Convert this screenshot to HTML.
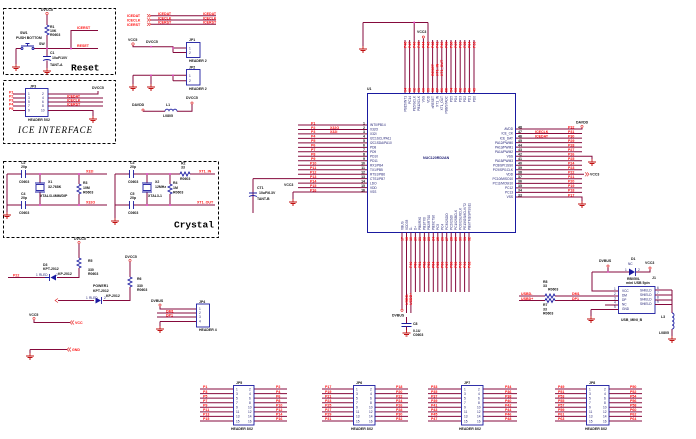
<!DOCTYPE html>
<html><head><meta charset="utf-8"><title>schematic</title>
<style>
html,body{margin:0;padding:0;background:#fff;width:696px;height:439px;overflow:hidden}
svg{display:block;font-family:"Liberation Sans",sans-serif}
.w{stroke:#850a3c;stroke-width:1;fill:none}
.b{stroke:#1a1aa0;stroke-width:0.9;fill:none}
.rd{fill:#ff1010;font-size:3.6px;font-weight:bold}
.k{fill:#111;font-size:3.5px;font-weight:bold}
.n{fill:#1a1a70;font-size:3.2px}
.d{stroke:#000;stroke-width:1;stroke-dasharray:3 2;fill:none}
.j{fill:#e040c0}
.pc{fill:none;stroke:#e02020;stroke-width:0.6}
.big{font-family:"Liberation Mono",monospace;font-size:9.5px;fill:#000;font-weight:bold}
.ice{font-family:"Liberation Serif",serif;font-style:italic;font-size:9px;fill:#000}
</style></head><body>
<svg width="696" height="439" viewBox="0 0 696 439" xmlns="http://www.w3.org/2000/svg">
<defs>
<g id="gnd"><path d="M0,-3V0M-4,0H4M-2.5,1.5H2.5M-1,3H1" stroke="#c01010" stroke-width="0.9" fill="none"/></g>
<g id="rv"><path d="M0,0l2,1l-4,2l4,2l-4,2l4,2l-2,1" stroke="#1a1aa0" stroke-width="0.9" fill="none"/></g>
<g id="rh"><path d="M0,0l1,-2l2,4l2,-4l2,4l2,-4l1,2" stroke="#1a1aa0" stroke-width="0.9" fill="none"/></g>
</defs>

<!-- ================= RESET BOX ================= -->
<rect class="d" x="3.5" y="8.5" width="112" height="66"/>
<text class="k" x="41" y="11">DVCC5</text>
<circle class="pc" cx="47" cy="13.5" r="1.2"/>
<path class="w" d="M47,15V25M47,35V48.5M16,48.5H21M34,48.5H98M71,48.5V30.5H98M16,48.5V64M47,48.5V56.5M47,60.5V68"/>
<use href="#rv" x="47" y="25"/>
<circle class="b" cx="22" cy="48.5" r="1"/><circle class="b" cx="33" cy="48.5" r="1"/>
<path class="b" d="M21,46H34M27.5,46V43.5M25.5,43.5H29.5"/>
<text class="k" x="20" y="34">SW1</text>
<text class="k" x="16" y="39">PUSH BOTTOM</text>
<text class="k" x="39" y="45">SW</text>
<text class="k" x="50" y="28">R1</text>
<text class="k" x="50" y="32">10K</text>
<text class="k" x="50" y="36">R0603</text>
<text class="rd" x="77" y="29">ICERST</text>
<text class="rd" x="77" y="47">RESET</text>
<circle class="j" cx="47" cy="48.5" r="1"/><circle class="j" cx="71" cy="48.5" r="1"/>
<path class="b" d="M43,56.5H51M43,60.5Q47,58.5 51,60.5"/>
<text class="k" x="50" y="54">C1</text>
<text class="k" x="52" y="59">10uF/10V</text>
<text class="k" x="50" y="66">TANT-A</text>
<use href="#gnd" x="16" y="67"/>
<use href="#gnd" x="47" y="71"/>
<text class="big" x="71" y="70.5">Reset</text>

<!-- ================= ICE BOX ================= -->
<rect class="d" x="3.5" y="80.5" width="112" height="63"/>
<text class="k" x="30" y="87.5">JP3</text>
<rect class="b" x="25.5" y="88.5" width="22.5" height="28"/>
<path class="w" d="M13,94H25M13,98H25M13,102H25M13,106H25M13,110.5H25M48,94H98V91M48,98H103M48,102H103M48,106H103M48,110.5H93V116"/>
<text class="rd" x="9" y="93.5">P1</text><text class="rd" x="9" y="97.5">P2</text><text class="rd" x="9" y="101.5">P3</text><text class="rd" x="9" y="105.5">P4</text><text class="rd" x="9" y="110">P5</text>
<text class="n" x="28" y="95">1</text><text class="n" x="28" y="99">3</text><text class="n" x="28" y="103">5</text><text class="n" x="28" y="107">7</text><text class="n" x="28" y="111.5">9</text>
<text class="n" x="42" y="95">2</text><text class="n" x="42" y="99">4</text><text class="n" x="42" y="103">6</text><text class="n" x="42" y="107">8</text><text class="n" x="41" y="111.5">10</text>
<text class="rd" x="67" y="97.3">ICEDAT</text><text class="rd" x="67" y="101.3">ICECLK</text><text class="rd" x="67" y="105.3">ICERST</text>
<text class="k" x="92" y="89">DVCC5</text>
<use href="#gnd" x="93" y="119"/>
<text class="k" x="28" y="121">HEADER 5X2</text>
<text class="ice" x="18" y="133" textLength="74">ICE INTERFACE</text>

<!-- ================= TOP MIDDLE ================= -->
<text class="rd" x="127" y="17">ICEDAT</text><text class="rd" x="127" y="21.5">ICECLK</text><text class="rd" x="127" y="26">ICERST</text>
<path class="pc" d="M147,14.2l2,1.5l-2,1.5M149,14.2l2,1.5l-2,1.5M147,18.5l2,1.5l-2,1.5M149,18.5l2,1.5l-2,1.5M147,22.8l2,1.5l-2,1.5M149,22.8l2,1.5l-2,1.5"/>
<path class="w" d="M151,15.7H216M151,20H216M151,24.3H216"/>
<text class="rd" x="158" y="15">ICEDAT</text><text class="rd" x="158" y="19.3">ICECLK</text><text class="rd" x="158" y="23.6">ICERST</text>
<text class="rd" x="203" y="15">ICEDAT</text><text class="rd" x="203" y="19.3">ICECLK</text><text class="rd" x="203" y="23.6">ICERST</text>

<text class="k" x="128" y="41">VCC5</text>
<circle class="pc" cx="133" cy="44" r="1.2"/>
<text class="k" x="146" y="43">DVCC5</text>
<path class="w" d="M133,45.5V46.7H173V52.5M173,48H186M173,52.5H186"/>
<circle class="j" cx="151" cy="46.7" r="0.9"/><circle class="j" cx="173" cy="48" r="0.9"/>
<text class="k" x="189" y="41">JP1</text>
<rect class="b" x="186.5" y="42.5" width="13.5" height="15"/>
<text class="n" x="189" y="49.5">1</text><text class="n" x="189" y="54">2</text>
<text class="k" x="189" y="62">HEADER 2</text>

<path class="w" d="M133,75.3H173V80.7M173,75.3H186M173,80.7H186M133,75.3V84M151,75.3V84"/>
<circle class="j" cx="151" cy="75.3" r="0.9"/><circle class="j" cx="173" cy="75.3" r="0.9"/>
<use href="#gnd" x="133" y="87"/><use href="#gnd" x="151" y="87"/>
<text class="k" x="189" y="68.5">JP2</text>
<rect class="b" x="186.5" y="69.5" width="13.5" height="15.5"/>
<text class="n" x="189" y="77">1</text><text class="n" x="189" y="82">2</text>
<text class="k" x="189" y="90">HEADER 2</text>

<text class="k" x="132" y="106">DAVDD</text>
<circle class="pc" cx="143" cy="110" r="1.1"/>
<path class="w" d="M143,111.2H165M177,111.2H192V104"/>
<path class="b" d="M165,111.2a2,2 0 0 1 4,0a2,2 0 0 1 4,0a2,2 0 0 1 4,0"/>
<circle class="pc" cx="192" cy="103" r="1.1"/>
<text class="k" x="186" y="99">DVCC5</text>
<text class="k" x="166" y="106">L1</text>
<text class="k" x="163" y="117">L0805</text>

<!-- ================= CRYSTAL BOX ================= -->
<rect class="d" x="3.5" y="161.5" width="215" height="76"/>
<path class="w" d="M7,174H21.5M25.5,174H107M7,205H21.5M25.5,205H107M7,174V212M40,174V183M40,192V205M79,174V184M79,194V205"/>
<path class="b" d="M21.5,170V178M25.5,170V178M21.5,201V209M25.5,201V209M35,183H45M35,192H45"/>
<rect class="b" x="36" y="184.5" width="8" height="6"/>
<use href="#rv" x="79" y="184"/>
<circle class="j" cx="40" cy="174" r="1"/><circle class="j" cx="40" cy="205" r="1"/><circle class="j" cx="79" cy="174" r="1"/><circle class="j" cx="79" cy="205" r="1"/>
<use href="#gnd" x="7" y="215"/>
<text class="k" x="21" y="164">C2</text><text class="k" x="21" y="168">20p</text><text class="k" x="19" y="183">C0603</text>
<text class="k" x="21" y="195">C4</text><text class="k" x="21" y="199">20p</text><text class="k" x="19" y="214">C0603</text>
<text class="k" x="48" y="183">X1</text><text class="k" x="48" y="188">32.768K</text><text class="k" x="40" y="197">XTAL/3.4MM/DIP</text>
<text class="k" x="83" y="184">R3</text><text class="k" x="83" y="189">10M</text><text class="k" x="83" y="193.5">R0603</text>
<text class="rd" x="86" y="172.5">X32I</text><text class="rd" x="86" y="203.5">X32O</text>

<path class="w" d="M115,174H129.5M133.5,174H180M190,174H215M115,205H129.5M133.5,205H215M115,174V218M147,174V183M147,192V205M170,174V184M170,194V205"/>
<path class="b" d="M129.5,170V178M133.5,170V178M129.5,201V209M133.5,201V209M142,183H152M142,192H152"/>
<rect class="b" x="143" y="184.5" width="8" height="6"/>
<use href="#rv" x="170" y="184"/>
<use href="#rh" x="180" y="174"/>
<circle class="j" cx="147" cy="174" r="1"/><circle class="j" cx="147" cy="205" r="1"/><circle class="j" cx="170" cy="174" r="1"/><circle class="j" cx="170" cy="205" r="1"/>
<use href="#gnd" x="115" y="221"/>
<text class="k" x="130" y="164">C3</text><text class="k" x="130" y="168">20p</text><text class="k" x="128" y="183">C0603</text>
<text class="k" x="130" y="195">C5</text><text class="k" x="130" y="199">20p</text><text class="k" x="128" y="214">C0603</text>
<text class="k" x="155" y="183">X2</text><text class="k" x="155" y="188">12MHz</text><text class="k" x="148" y="197">XTAL3-1</text>
<text class="k" x="173" y="184">R4</text><text class="k" x="173" y="189">1M</text><text class="k" x="173" y="193.5">R0603</text>
<text class="k" x="181" y="164.5">R2</text><text class="k" x="181" y="168.5">33</text><text class="k" x="180" y="180">R0603</text>
<text class="rd" x="199" y="172.5">XT1_IN</text><text class="rd" x="197" y="203.5">XT1_OUT</text>
<text class="big" x="174" y="227.5">Crystal</text>

<!-- ================= LOWER LEFT ================= -->
<text class="k" x="74" y="240">DVCC5</text>
<circle class="pc" cx="79" cy="242.5" r="1.1"/>
<path class="w" d="M79,244V258M79,268V277.5H57M48,277.5H8"/>
<use href="#rv" x="79" y="258"/>
<path d="M56,274.5V280.5L50.5,277.5Z" fill="#1a1aa0"/>
<path class="b" d="M49.5,274V281M45,277.5H49.5"/>
<text class="n" x="36" y="276">1</text><text class="n" x="39" y="276">RLED</text><text class="n" x="56" y="276">2</text>
<text class="k" x="43" y="266">D3</text><text class="k" x="43" y="270">KPT-2012</text><text class="k" x="58" y="275">KP-2012</text>
<text class="rd" x="13" y="276.5">P22</text>
<text class="k" x="88" y="262">R5</text><text class="k" x="88" y="271">330</text><text class="k" x="88" y="275">R0603</text>

<text class="k" x="125" y="258">DVCC5</text>
<circle class="pc" cx="130" cy="260.5" r="1.1"/>
<path class="w" d="M130,262V277M130,287V300.5H103M94,300.5H58"/>
<use href="#rv" x="130" y="277"/>
<path d="M95.5,297.5V303.5L101,300.5Z" fill="#1a1aa0"/>
<path class="b" d="M101.5,297V304"/>
<path class="pc" d="M58,298.5l-3,2l3,2"/>
<text class="n" x="86" y="299">1</text><text class="n" x="89" y="299">RLED</text><text class="n" x="104" y="299">2</text>
<text class="k" x="93" y="287">POWER1</text><text class="k" x="93" y="292">KPT-2012</text><text class="k" x="106" y="297">KP-2012</text>
<text class="k" x="137" y="280">R6</text><text class="k" x="137" y="287">330</text><text class="k" x="137" y="291">R0603</text>

<text class="k" x="151" y="302">DVBUS</text>
<circle class="pc" cx="160" cy="305" r="1.1"/>
<path class="w" d="M160,306.5V309H196M157,313H196M157,317H196M160,321.5H196M160,321.5V326"/>
<use href="#gnd" x="160" y="329"/>
<text class="rd" x="166" y="312.3">DM1</text><text class="rd" x="166" y="316.3">DP1</text>
<text class="k" x="199" y="303">JP4</text>
<rect class="b" x="196.5" y="304" width="13" height="23"/>
<text class="n" x="199" y="310">1</text><text class="n" x="199" y="314">2</text><text class="n" x="199" y="318">3</text><text class="n" x="199" y="322.5">4</text>
<text class="k" x="199" y="331">HEADER 4</text>

<text class="k" x="29" y="316">VCC5</text>
<circle class="pc" cx="34" cy="318.5" r="1.1"/>
<path class="w" d="M34,320V322.5H70"/>
<path class="pc" d="M72,320.5l-2,2l2,2M74,320.5l-2,2l2,2"/>
<text class="rd" x="75" y="324">VCC</text>
<path class="w" d="M30,349.5H67M30,349.5V353"/>
<use href="#gnd" x="30" y="356"/>
<path class="pc" d="M69,347.5l-2,2l2,2M71,347.5l-2,2l2,2"/>
<text class="rd" x="72" y="351">GND</text>

<!-- ================= U1 TOP WIRING ================= -->
<path class="w" d="M363,22.5H428M363,22.5V46M414.2,22.5V40M428,22.5V40"/>
<circle class="j" cx="414.2" cy="22.5" r="1"/>
<use href="#gnd" x="363" y="49"/>
<text class="k" x="417" y="33">VCC3</text>
<circle class="pc" cx="423.4" cy="37" r="1.1"/>
<path class="w" d="M405,40V93M409.6,40V93M414.2,40V93M418.8,40V93M423.4,38.5V93M428,40V93M432.6,40V93M437.2,40V93M441.8,40V93M446.4,40V93M451,40V93M455.6,40V93M460.2,40V93M464.8,40V93M469.4,40V93M474,40V93"/>
<g class="rd" font-size="3.2">
<text transform="rotate(-90 406.3 48)" x="406.3" y="48">P48</text>
<text transform="rotate(-90 410.9 48)" x="410.9" y="48">P47</text>
<text transform="rotate(-90 415.5 48)" x="415.5" y="48">P46</text>
<text transform="rotate(-90 420.1 48)" x="420.1" y="48">P45</text>
<text transform="rotate(-90 424.7 48)" x="424.7" y="48">P44</text>
<text transform="rotate(-90 429.3 48)" x="429.3" y="48">P43</text>
<text transform="rotate(-90 433.9 48)" x="433.9" y="48">P42</text>
<text transform="rotate(-90 438.5 48)" x="438.5" y="48">P41</text>
<text transform="rotate(-90 443.1 48)" x="443.1" y="48">P40</text>
<text transform="rotate(-90 447.7 48)" x="447.7" y="48">P39</text>
<text transform="rotate(-90 452.3 48)" x="452.3" y="48">P38</text>
<text transform="rotate(-90 456.9 48)" x="456.9" y="48">P37</text>
<text transform="rotate(-90 461.5 48)" x="461.5" y="48">P36</text>
<text transform="rotate(-90 466.1 48)" x="466.1" y="48">P35</text>
<text transform="rotate(-90 470.7 48)" x="470.7" y="48">P34</text>
<text transform="rotate(-90 475.3 48)" x="475.3" y="48">P33</text>
<text transform="rotate(-90 433.9 76)" x="433.9" y="76">RESET</text>
<text transform="rotate(-90 438.5 76)" x="438.5" y="76">XT1_IN</text>
<text transform="rotate(-90 443.1 76)" x="443.1" y="76">XT1_OUT</text>
<text transform="rotate(-90 406.3 92)" x="406.3" y="92">64</text>
<text transform="rotate(-90 410.9 92)" x="410.9" y="92">63</text>
<text transform="rotate(-90 415.5 92)" x="415.5" y="92">62</text>
<text transform="rotate(-90 420.1 92)" x="420.1" y="92">61</text>
<text transform="rotate(-90 424.7 92)" x="424.7" y="92">60</text>
<text transform="rotate(-90 429.3 92)" x="429.3" y="92">59</text>
<text transform="rotate(-90 433.9 92)" x="433.9" y="92">58</text>
<text transform="rotate(-90 438.5 92)" x="438.5" y="92">57</text>
<text transform="rotate(-90 443.1 92)" x="443.1" y="92">56</text>
<text transform="rotate(-90 447.7 92)" x="447.7" y="92">55</text>
<text transform="rotate(-90 452.3 92)" x="452.3" y="92">54</text>
<text transform="rotate(-90 456.9 92)" x="456.9" y="92">53</text>
<text transform="rotate(-90 461.5 92)" x="461.5" y="92">52</text>
<text transform="rotate(-90 466.1 92)" x="466.1" y="92">51</text>
<text transform="rotate(-90 470.7 92)" x="470.7" y="92">50</text>
<text transform="rotate(-90 475.3 92)" x="475.3" y="92">49</text>
</g>

<!-- ================= U1 CHIP ================= -->
<text class="k" x="367" y="90">U1</text>
<rect x="367.5" y="93.5" width="148" height="139" fill="none" stroke="#1a1aa0" stroke-width="1"/>
<text x="423" y="159" fill="#1a1a70" font-size="3.6" font-weight="bold">NUC120RD2AN</text>
<g class="n" font-size="3" text-anchor="end">
<text transform="rotate(-90 406.3 96)" x="406.3" y="96">PB15/INT1</text>
<text transform="rotate(-90 410.9 96)" x="410.9" y="96">PC14</text>
<text transform="rotate(-90 415.5 96)" x="415.5" y="96">PE5/SCLK</text>
<text transform="rotate(-90 420.1 96)" x="420.1" y="96">PB12/CLK</text>
<text transform="rotate(-90 424.7 96)" x="424.7" y="96">VSS</text>
<text transform="rotate(-90 429.3 96)" x="429.3" y="96">VDD</text>
<text transform="rotate(-90 433.9 96)" x="433.9" y="96">nRESET</text>
<text transform="rotate(-90 438.5 96)" x="438.5" y="96">XT1_IN</text>
<text transform="rotate(-90 443.1 96)" x="443.1" y="96">XT1_OUT</text>
<text transform="rotate(-90 447.7 96)" x="447.7" y="96">PB8/STADC</text>
<text transform="rotate(-90 452.3 96)" x="452.3" y="96">PD5</text>
<text transform="rotate(-90 456.9 96)" x="456.9" y="96">PD4</text>
<text transform="rotate(-90 461.5 96)" x="461.5" y="96">PD3</text>
<text transform="rotate(-90 466.1 96)" x="466.1" y="96">PD2</text>
<text transform="rotate(-90 470.7 96)" x="470.7" y="96">PD1</text>
<text transform="rotate(-90 475.3 96)" x="475.3" y="96">PD0</text>
</g>

<!-- left pins -->
<path class="w" d="M298,125H367M298,129.5H367M298,133.9H367M298,138.4H367M298,142.9H367M298,147.4H367M298,151.8H367M298,156.3H367M298,160.8H367M298,165.2H367M298,169.7H367M298,174.2H367M253,178.6H367M298,183.1H367M298,187.6H367M293,192H367M293,192V199M253,178.6V213"/>
<g class="rd">
<text x="311" y="124.3">P1</text><text x="311" y="128.8">P2</text><text x="311" y="133.2">P3</text><text x="311" y="137.7">P4</text><text x="311" y="142.2">P5</text><text x="311" y="146.7">P6</text><text x="311" y="151.1">P7</text><text x="311" y="155.6">P8</text><text x="311" y="160.1">P9</text><text x="310" y="164.5">P10</text><text x="310" y="169">P11</text><text x="310" y="173.5">P12</text><text x="310" y="177.9">P13</text><text x="310" y="182.4">P14</text><text x="310" y="186.9">P15</text><text x="310" y="191.3">P16</text>
<text x="330" y="128.8">X32O</text><text x="330" y="133.2">X32I</text>
</g>
<g class="k" font-size="3" text-anchor="end">
<text x="365" y="124.3">1</text><text x="365" y="128.8">2</text><text x="365" y="133.2">3</text><text x="365" y="137.7">4</text><text x="365" y="142.2">5</text><text x="365" y="146.7">6</text><text x="365" y="151.1">7</text><text x="365" y="155.6">8</text><text x="365" y="160.1">9</text><text x="365" y="164.5">10</text><text x="365" y="169">11</text><text x="365" y="173.5">12</text><text x="365" y="177.9">13</text><text x="365" y="182.4">14</text><text x="365" y="186.9">15</text><text x="365" y="191.3">16</text>
</g>
<g class="n" font-size="3">
<text x="370" y="126.2">INT0/PB14</text><text x="370" y="130.7">X32O</text><text x="370" y="135.1">X32I</text><text x="370" y="139.6">I2C1SCL/PA11</text><text x="370" y="144.1">I2C1SDA/PA10</text><text x="370" y="148.6">PD8</text><text x="370" y="153">PD9</text><text x="370" y="157.5">PD10</text><text x="370" y="162">PD11</text><text x="370" y="166.4">RX1/PB4</text><text x="370" y="170.9">TX1/PB5</text><text x="370" y="175.4">RTS1/PB6</text><text x="370" y="179.8">CTS1/PB7</text><text x="370" y="184.3">LDO</text><text x="370" y="188.8">VDD</text><text x="370" y="193.2">VSS</text>
</g>
<path class="b" d="M249,193H257M249,196.5Q253,194.5 257,196.5"/>
<text class="k" x="257" y="189">CT1</text><text class="k" x="259" y="194">10uF/6.3V</text><text class="k" x="257" y="200">TANT-B</text>
<text class="k" x="284" y="186">VCC3</text>
<use href="#gnd" x="293" y="202"/>

<!-- right pins -->
<path class="w" d="M516,129H582V128M516,133.5H582M516,138.1H582M516,142.6H582M516,147.1H582M516,151.7H582M516,156.2H592V159M516,160.7H582M516,165.2H582M516,169.8H582M516,174.3H584M516,178.8H582M516,183.4H582M516,187.9H582M516,192.4H582M516,197H582V201"/>
<circle class="pc" cx="582" cy="126.5" r="1.1"/>
<text class="k" x="576" y="123.5">DAVDD</text>
<use href="#gnd" x="592" y="162"/>
<use href="#gnd" x="582" y="204"/>
<path class="pc" d="M585,172.3l2,2l-2,2M587,172.3l2,2l-2,2"/>
<text class="k" x="590" y="175.5">VCC3</text>
<g class="rd">
<text x="568" y="128.3">P32</text><text x="568" y="132.8">P31</text><text x="568" y="137.4">P30</text><text x="568" y="141.9">P29</text><text x="568" y="146.4">P28</text><text x="568" y="151">P27</text><text x="568" y="155.5">P26</text><text x="568" y="160">P25</text><text x="568" y="164.5">P24</text><text x="568" y="169.1">P23</text><text x="568" y="173.6">P22</text><text x="568" y="178.1">P21</text><text x="568" y="182.7">P20</text><text x="568" y="187.2">P19</text><text x="568" y="191.7">P18</text><text x="568" y="196.3">P17</text>
<text x="535" y="132.8">ICECLK</text><text x="535" y="137.4">ICEDAT</text>
</g>
<g class="k" font-size="3">
<text x="518" y="128.3">48</text><text x="518" y="132.8">47</text><text x="518" y="137.4">46</text><text x="518" y="141.9">45</text><text x="518" y="146.4">44</text><text x="518" y="151">43</text><text x="518" y="155.5">42</text><text x="518" y="160">41</text><text x="518" y="164.5">40</text><text x="518" y="169.1">39</text><text x="518" y="173.6">38</text><text x="518" y="178.1">37</text><text x="518" y="182.7">36</text><text x="518" y="187.2">35</text><text x="518" y="191.7">34</text><text x="518" y="196.3">33</text>
</g>
<g class="n" font-size="3" text-anchor="end">
<text x="513" y="130.2">AVDD</text><text x="513" y="134.7">ICE_CK</text><text x="513" y="139.3">ICE_DAT</text><text x="513" y="143.8">PA12/PWM0</text><text x="513" y="148.3">PA13/PWM1</text><text x="513" y="152.9">PA14/PWM2</text><text x="513" y="157.4">VSS</text><text x="513" y="161.9">PA15/PWM3</text><text x="513" y="166.4">PC8/SPI1SS0</text><text x="513" y="171">PC9/SPI1CLK</text><text x="513" y="175.5">VDD</text><text x="513" y="180">PC10/MISO10</text><text x="513" y="184.6">PC11/MOSI10</text><text x="513" y="189.1">PC12</text><text x="513" y="193.6">PC13</text><text x="513" y="198.2">VSS</text>
</g>

<!-- bottom pins -->
<path class="w" d="M402,232.5V309M406.5,232.5V313M410.9,232.5V313M415.4,232.5V292M419.9,232.5V292M424.4,232.5V292M428.8,232.5V292M433.3,232.5V292M437.8,232.5V292M442.2,232.5V292M446.7,232.5V292M451.2,232.5V292M455.6,232.5V292M460.1,232.5V292M464.6,232.5V292M469,232.5V292M406.5,317V323"/>
<circle class="pc" cx="402" cy="310.3" r="1.1"/>
<text class="k" x="392" y="316.5">DVBUS</text>
<path class="b" d="M401.5,323.5H411.5M401.5,326.5H411.5"/>
<path class="w" d="M406.5,326.5V330"/>
<use href="#gnd" x="406.5" y="333"/>
<text class="k" x="413" y="325">C8</text><text class="k" x="413" y="332">0.1U</text><text class="k" x="413" y="336">C0603</text>
<g class="rd" font-size="3.2">
<text transform="rotate(-90 407.8 305)" x="407.8" y="305">USBD-</text>
<text transform="rotate(-90 412.2 305)" x="412.2" y="305">USBD+</text>
<text transform="rotate(-90 403.3 241)" x="403.3" y="241">17</text>
<text transform="rotate(-90 407.8 241)" x="407.8" y="241">18</text>
<text transform="rotate(-90 412.2 241)" x="412.2" y="241">19</text>
<text transform="rotate(-90 416.7 241)" x="416.7" y="241">20</text>
<text transform="rotate(-90 421.2 241)" x="421.2" y="241">21</text>
<text transform="rotate(-90 425.7 241)" x="425.7" y="241">22</text>
<text transform="rotate(-90 430.1 241)" x="430.1" y="241">23</text>
<text transform="rotate(-90 434.6 241)" x="434.6" y="241">24</text>
<text transform="rotate(-90 439.1 241)" x="439.1" y="241">25</text>
<text transform="rotate(-90 443.5 241)" x="443.5" y="241">26</text>
<text transform="rotate(-90 448 241)" x="448" y="241">27</text>
<text transform="rotate(-90 452.5 241)" x="452.5" y="241">28</text>
<text transform="rotate(-90 456.9 241)" x="456.9" y="241">29</text>
<text transform="rotate(-90 461.4 241)" x="461.4" y="241">30</text>
<text transform="rotate(-90 465.9 241)" x="465.9" y="241">31</text>
<text transform="rotate(-90 470.3 241)" x="470.3" y="241">32</text>
<text transform="rotate(-90 412.2 268)" x="412.2" y="268">P49</text>
<text transform="rotate(-90 416.7 268)" x="416.7" y="268">P50</text>
<text transform="rotate(-90 421.2 268)" x="421.2" y="268">P51</text>
<text transform="rotate(-90 425.7 268)" x="425.7" y="268">P52</text>
<text transform="rotate(-90 430.1 268)" x="430.1" y="268">P53</text>
<text transform="rotate(-90 434.6 268)" x="434.6" y="268">P54</text>
<text transform="rotate(-90 439.1 268)" x="439.1" y="268">P55</text>
<text transform="rotate(-90 443.5 268)" x="443.5" y="268">P56</text>
<text transform="rotate(-90 448 268)" x="448" y="268">P57</text>
<text transform="rotate(-90 452.5 268)" x="452.5" y="268">P58</text>
<text transform="rotate(-90 456.9 268)" x="456.9" y="268">P59</text>
<text transform="rotate(-90 461.4 268)" x="461.4" y="268">P60</text>
<text transform="rotate(-90 465.9 268)" x="465.9" y="268">P61</text>
<text transform="rotate(-90 470.3 268)" x="470.3" y="268">P62</text>
</g>
<g class="n" font-size="3">
<text transform="rotate(-90 403.3 230)" x="403.3" y="230">VBUS</text>
<text transform="rotate(-90 407.8 230)" x="407.8" y="230">VDD33</text>
<text transform="rotate(-90 412.2 230)" x="412.2" y="230">D-</text>
<text transform="rotate(-90 416.7 230)" x="416.7" y="230">D+</text>
<text transform="rotate(-90 421.2 230)" x="421.2" y="230">PB0/RX0</text>
<text transform="rotate(-90 425.7 230)" x="425.7" y="230">PB1/TX0</text>
<text transform="rotate(-90 430.1 230)" x="430.1" y="230">PB2/RTS0</text>
<text transform="rotate(-90 434.6 230)" x="434.6" y="230">PB3/CTS0</text>
<text transform="rotate(-90 439.1 230)" x="439.1" y="230">PC5</text>
<text transform="rotate(-90 443.5 230)" x="443.5" y="230">PC4</text>
<text transform="rotate(-90 448 230)" x="448" y="230">PC3/I2SDO</text>
<text transform="rotate(-90 452.5 230)" x="452.5" y="230">PC2/I2SDI</text>
<text transform="rotate(-90 456.9 230)" x="456.9" y="230">PC1/I2SBCLK</text>
<text transform="rotate(-90 461.4 230)" x="461.4" y="230">PC0/I2SLRCLK</text>
<text transform="rotate(-90 465.9 230)" x="465.9" y="230">PE13/I2SMCLK/T2</text>
<text transform="rotate(-90 470.3 230)" x="470.3" y="230">PB9/TM1/SPISS11</text>
</g>

<!-- ================= USB ================= -->
<text class="k" x="599" y="262">DVBUS</text>
<circle class="pc" cx="608" cy="266" r="1.1"/>
<path class="w" d="M608,267.5V272M592,272H629M592,272V291H618M636,272H650V269.5"/>
<circle class="j" cx="608" cy="272" r="0.9"/>
<path d="M629,268.5V275.5L635,272Z" fill="#1a1aa0"/>
<path class="b" d="M635.5,268V276"/>
<circle class="pc" cx="650" cy="268" r="1.1"/>
<text class="k" x="645" y="264">VCC3</text>
<text class="k" x="631" y="260">D1</text><text class="n" x="628" y="265">NC</text>
<text class="n" x="625" y="271">1</text><text class="n" x="638" y="271">2</text>
<text class="k" x="627" y="280">RB050L</text>
<text class="k" x="652" y="279">J1</text>
<text class="k" x="626" y="284">mini USB 5pin</text>
<rect class="b" x="618.5" y="286.5" width="36.5" height="27"/>
<g class="n" font-size="3.2">
<text x="622" y="292">VCC</text><text x="622" y="296.7">DM</text><text x="622" y="301.2">DP</text><text x="622" y="305.5">NC</text><text x="622" y="310">GND</text>
<text x="640" y="291.5">SHIELD</text><text x="640" y="296">SHIELD</text><text x="640" y="300.5">SHIELD</text><text x="640" y="305">SHIELD</text>
<text x="614" y="290">1</text><text x="614" y="295">2</text><text x="614" y="299.5">3</text><text x="614" y="303.5">4</text><text x="614" y="308">5</text>
<text x="657" y="289">6</text><text x="657" y="294">7</text><text x="657" y="298.5">8</text><text x="657" y="303">9</text>
</g>
<path class="w" d="M519,296H545M555,296H618M519,300.5H545M555,300.5H618M605,305H618M591,309.5H618M591,309.5V316M655,290H672M655,295H672M655,300H672M655,304.5H672M672,290V313M672,329V336"/>
<use href="#rh" x="545" y="296"/>
<use href="#rh" x="545" y="300.5"/>
<path class="b" d="M672,313a2,2 0 0 1 0,4a2,2 0 0 1 0,4a2,2 0 0 1 0,4a2,2 0 0 1 0,4"/>
<use href="#gnd" x="591" y="319"/>
<use href="#gnd" x="672" y="339"/>
<text class="rd" x="521" y="295">USBD-</text><text class="rd" x="521" y="299.8">USBD+</text>
<text class="rd" x="572" y="295">DM1</text><text class="rd" x="572" y="299.8">DP1</text>
<text class="k" x="543" y="283">R8</text><text class="k" x="543" y="287">33</text><text class="k" x="548" y="290.5">R0603</text>
<text class="k" x="543" y="306">R7</text><text class="k" x="543" y="310.5">33</text><text class="k" x="543" y="314.5">R0603</text>
<text class="k" x="661" y="318">L3</text><text class="k" x="659" y="334">L0805</text>
<text class="k" x="621" y="321">USB_MINI_B</text>

<!-- ================= HEADERS ================= -->
<!-- JP5 -->
<path class="w" d="M200,389H233M200,393.6H233M200,398.1H233M200,402.7H233M200,407.3H233M200,411.9H233M200,416.4H233M200,421H233M254,389H287M254,393.6H287M254,398.1H287M254,402.7H287M254,407.3H287M254,411.9H287M254,416.4H287M254,421H287"/>
<rect class="b" x="233.5" y="385.5" width="20.5" height="39.5"/>
<text class="k" x="236" y="384">JP5</text>
<text class="k" x="231" y="430">HEADER 8X2</text>
<g class="rd"><text x="203" y="388.2">P1</text><text x="203" y="392.8">P3</text><text x="203" y="397.3">P5</text><text x="203" y="401.9">P7</text><text x="203" y="406.5">P9</text><text x="203" y="411.1">P11</text><text x="203" y="415.6">P13</text><text x="203" y="420.2">P15</text>
<text x="276" y="388.2">P2</text><text x="276" y="392.8">P4</text><text x="276" y="397.3">P6</text><text x="276" y="401.9">P8</text><text x="276" y="406.5">P10</text><text x="276" y="411.1">P12</text><text x="276" y="415.6">P14</text><text x="276" y="420.2">P16</text></g>
<g class="n"><text x="236" y="390.3">1</text><text x="236" y="394.9">3</text><text x="236" y="399.4">5</text><text x="236" y="404">7</text><text x="236" y="408.6">9</text><text x="236" y="413.2">11</text><text x="236" y="417.7">13</text><text x="236" y="422.3">15</text>
<text x="249" y="390.3">2</text><text x="249" y="394.9">4</text><text x="249" y="399.4">6</text><text x="249" y="404">8</text><text x="248" y="408.6">10</text><text x="248" y="413.2">12</text><text x="248" y="417.7">14</text><text x="248" y="422.3">16</text></g>

<!-- JP6 -->
<path class="w" d="M322,389H353M322,393.6H353M322,398.1H353M322,402.7H353M322,407.3H353M322,411.9H353M322,416.4H353M322,421H353M375,389H408M375,393.6H408M375,398.1H408M375,402.7H408M375,407.3H408M375,411.9H408M375,416.4H408M375,421H408"/>
<rect class="b" x="353.5" y="385.5" width="21.5" height="39.5"/>
<text class="k" x="356" y="384">JP6</text>
<text class="k" x="351" y="430">HEADER 8X2</text>
<g class="rd"><text x="325" y="388.2">P17</text><text x="325" y="392.8">P19</text><text x="325" y="397.3">P21</text><text x="325" y="401.9">P23</text><text x="325" y="406.5">P25</text><text x="325" y="411.1">P27</text><text x="325" y="415.6">P29</text><text x="325" y="420.2">P31</text>
<text x="396" y="388.2">P18</text><text x="396" y="392.8">P20</text><text x="396" y="397.3">P22</text><text x="396" y="401.9">P24</text><text x="396" y="406.5">P26</text><text x="396" y="411.1">P28</text><text x="396" y="415.6">P30</text><text x="396" y="420.2">P32</text></g>
<g class="n"><text x="356" y="390.3">1</text><text x="356" y="394.9">3</text><text x="356" y="399.4">5</text><text x="356" y="404">7</text><text x="356" y="408.6">9</text><text x="356" y="413.2">11</text><text x="356" y="417.7">13</text><text x="356" y="422.3">15</text>
<text x="370" y="390.3">2</text><text x="370" y="394.9">4</text><text x="370" y="399.4">6</text><text x="370" y="404">8</text><text x="369" y="408.6">10</text><text x="369" y="413.2">12</text><text x="369" y="417.7">14</text><text x="369" y="422.3">16</text></g>

<!-- JP7 -->
<path class="w" d="M428,389H461M428,393.6H461M428,398.1H461M428,402.7H461M428,407.3H461M428,411.9H461M428,416.4H461M428,421H461M483,389H517M483,393.6H517M483,398.1H517M483,402.7H517M483,407.3H517M483,411.9H517M483,416.4H517M483,421H517"/>
<rect class="b" x="461.5" y="385.5" width="21.5" height="39.5"/>
<text class="k" x="464" y="384">JP7</text>
<text class="k" x="459" y="430">HEADER 8X2</text>
<g class="rd"><text x="431" y="388.2">P33</text><text x="431" y="392.8">P35</text><text x="431" y="397.3">P37</text><text x="431" y="401.9">P39</text><text x="431" y="406.5">P41</text><text x="431" y="411.1">P43</text><text x="431" y="415.6">P45</text><text x="431" y="420.2">P47</text>
<text x="505" y="388.2">P34</text><text x="505" y="392.8">P36</text><text x="505" y="397.3">P38</text><text x="505" y="401.9">P40</text><text x="505" y="406.5">P42</text><text x="505" y="411.1">P44</text><text x="505" y="415.6">P46</text><text x="505" y="420.2">P48</text></g>
<g class="n"><text x="464" y="390.3">1</text><text x="464" y="394.9">3</text><text x="464" y="399.4">5</text><text x="464" y="404">7</text><text x="464" y="408.6">9</text><text x="464" y="413.2">11</text><text x="464" y="417.7">13</text><text x="464" y="422.3">15</text>
<text x="478" y="390.3">2</text><text x="478" y="394.9">4</text><text x="478" y="399.4">6</text><text x="478" y="404">8</text><text x="477" y="408.6">10</text><text x="477" y="413.2">12</text><text x="477" y="417.7">14</text><text x="477" y="422.3">16</text></g>

<!-- JP8 -->
<path class="w" d="M555,389H586M555,393.6H586M555,398.1H586M555,402.7H586M555,407.3H586M555,411.9H586M555,416.4H586M555,421H586M609,389H642M609,393.6H642M609,398.1H642M609,402.7H642M609,407.3H642M609,411.9H642M609,416.4H642M609,421H642"/>
<rect class="b" x="586.5" y="385.5" width="22.5" height="39.5"/>
<text class="k" x="589" y="384">JP8</text>
<text class="k" x="585" y="430">HEADER 8X2</text>
<g class="rd"><text x="558" y="388.2">P49</text><text x="558" y="392.8">P51</text><text x="558" y="397.3">P53</text><text x="558" y="401.9">P55</text><text x="558" y="406.5">P57</text><text x="558" y="411.1">P59</text><text x="558" y="415.6">P61</text><text x="558" y="420.2">P63</text>
<text x="630" y="388.2">P50</text><text x="630" y="392.8">P52</text><text x="630" y="397.3">P54</text><text x="630" y="401.9">P56</text><text x="630" y="406.5">P58</text><text x="630" y="411.1">P60</text><text x="630" y="415.6">P62</text><text x="630" y="420.2">P64</text></g>
<g class="n"><text x="589" y="390.3">1</text><text x="589" y="394.9">3</text><text x="589" y="399.4">5</text><text x="589" y="404">7</text><text x="589" y="408.6">9</text><text x="589" y="413.2">11</text><text x="589" y="417.7">13</text><text x="589" y="422.3">15</text>
<text x="604" y="390.3">2</text><text x="604" y="394.9">4</text><text x="604" y="399.4">6</text><text x="604" y="404">8</text><text x="603" y="408.6">10</text><text x="603" y="413.2">12</text><text x="603" y="417.7">14</text><text x="603" y="422.3">16</text></g>

</svg>
</body></html>
